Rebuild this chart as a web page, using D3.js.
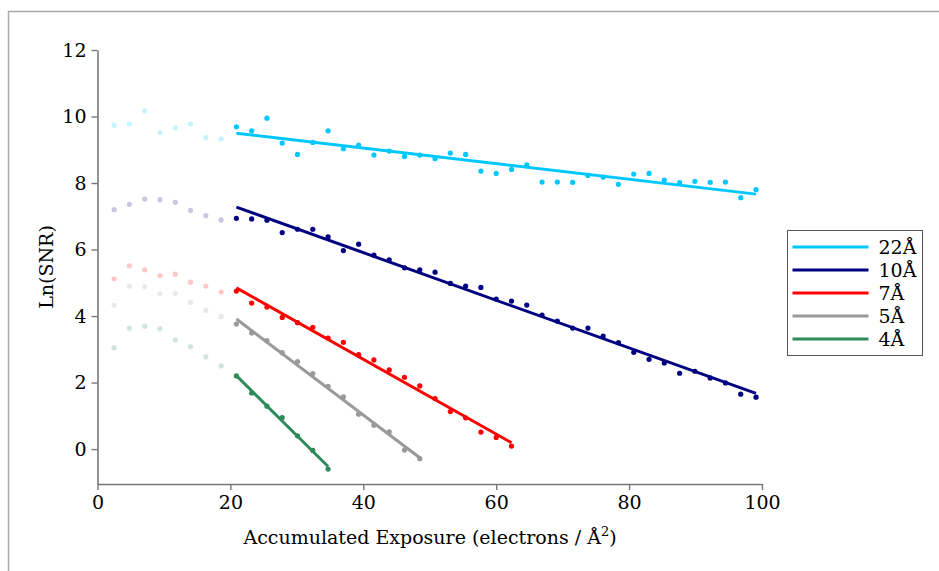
<!DOCTYPE html>
<html lang="en">
<head>
	<meta charset="UTF-8">
	<title>Ln(SNR) vs exposure</title>
	<script src="https://d3js.org/d3.v7.min.js"></script>
	<style>
		body { margin: 0; background: #fff; }
		text { font-family: 'DejaVu Serif', serif; fill: #000; }
	</style>
</head>
<body>

	<div class="box"></div>

	<script type="text/javascript">
		// accumulated exposure (e/A^2) of each frame
		let exposure = [2.5, 4.8, 7.1, 9.4, 11.7, 14.0, 16.3, 18.6, 20.9, 23.2, 25.5, 27.8, 30.1, 32.4, 34.7,
			37.0, 39.3, 41.6, 43.9, 46.2, 48.5, 50.8, 53.1, 55.4, 57.7, 60.0, 62.3, 64.6, 66.9, 69.2,
			71.5, 73.8, 76.1, 78.4, 80.7, 83.0, 85.3, 87.6, 89.9, 92.2, 94.5, 96.8, 99.1]
		// first frames are left out of the fit (drawn faded)
		let skipFrames = 8

		let snr22 = [9.74, 9.78, 10.17, 9.52, 9.66, 9.78, 9.37, 9.33,
			9.69, 9.57, 9.95, 9.20, 8.86, 9.22, 9.57, 9.03, 9.14, 8.84, 8.96, 8.80, 8.84, 8.73, 8.90, 8.86,
			8.36, 8.29, 8.41, 8.55, 8.03, 8.03, 8.02, 8.23, 8.18, 7.96, 8.27, 8.29, 8.09, 8.01, 8.05, 8.02,
			8.03, 7.56, 7.80]
		let snr10 = [7.20, 7.36, 7.52, 7.50, 7.42, 7.18, 7.02, 6.89,
			6.94, 6.92, 6.88, 6.51, 6.61, 6.61, 6.38, 5.97, 6.16, 5.83, 5.69, 5.45, 5.39, 5.32, 4.98, 4.90,
			4.86, 4.51, 4.45, 4.33, 4.03, 3.85, 3.64, 3.64, 3.40, 3.20, 2.91, 2.70, 2.59, 2.28, 2.34, 2.14,
			1.99, 1.65, 1.56]
		let snr7 = [5.12, 5.51, 5.39, 5.22, 5.26, 5.02, 4.90, 4.72,
			4.75, 4.39, 4.27, 3.96, 3.80, 3.66, 3.34, 3.21, 2.84, 2.68, 2.38, 2.16, 1.90, 1.52, 1.13, 0.94,
			0.51, 0.35, 0.09]
		let snr5 = [4.33, 4.90, 4.88, 4.67, 4.68, 4.41, 4.17, 3.99,
			3.76, 3.49, 3.26, 2.90, 2.63, 2.27, 1.89, 1.57, 1.05, 0.72, 0.52, -0.03, -0.29]
		let snr4 = [3.05, 3.64, 3.69, 3.62, 3.28, 3.08, 2.77, 2.50,
			2.20, 1.69, 1.29, 0.95, 0.40, -0.04, -0.60]

		let seriesNames = ['22Å', '10Å', '7Å', '5Å', '4Å']
		let seriesValues = [snr22, snr10, snr7, snr5, snr4]
		let colors = ['#00c8ff', '#000080', '#ff0000', '#999999', '#2e8b57']

		let xTicks = [0, 20, 40, 60, 80, 100]
		let yTicks = [0, 2, 4, 6, 8, 10, 12]

		let width = 939
		let height = 571
		let svg = d3.select('.box').append('svg').attr('width', width).attr('height', height)

		// frame
		svg.append('rect')
			.attr('x', 8.5).attr('y', 11.5)
			.attr('width', width + 10).attr('height', height + 10)
			.attr('fill', 'none').attr('stroke', '#aaa').attr('stroke-width', 1.5)

		let x = d3.scaleLinear().domain([0, 100]).range([97.5, 762])
		let y = d3.scaleLinear().domain([-1.05, 12]).range([484, 50])

		let xAxis = svg.append('g')
			.attr('transform', `translate(0,${y(-1.05)})`)
			.call(d3.axisBottom(x).tickValues(xTicks).tickSize(6).tickPadding(6).tickSizeOuter(0))
		let yAxis = svg.append('g')
			.attr('transform', `translate(${x(0)},0)`)
			.call(d3.axisLeft(y).tickValues(yTicks).tickSize(6).tickPadding(5).tickSizeOuter(0))
		;[xAxis, yAxis].forEach(g => {
			g.select('.domain').attr('stroke', '#777').attr('stroke-width', 1.6)
			g.selectAll('.tick line').attr('stroke', '#777').attr('stroke-width', 1.4)
			g.selectAll('.tick text').attr('font-size', '19px')
				.style('font-family', "'DejaVu Serif', serif")
		})

		svg.append('text')
			.attr('x', 430).attr('y', 544)
			.attr('text-anchor', 'middle')
			.attr('font-size', '19px')
			.text('Accumulated Exposure (electrons / Å')
			.append('tspan').attr('dy', -8).attr('font-size', '13px').text('2')
			.select(function () { return this.parentNode })
			.append('tspan').attr('dy', 8).text(')')

		svg.append('text')
			.attr('transform', `translate(53,${(y(12) + y(-1.05)) / 2}) rotate(-90)`)
			.attr('text-anchor', 'middle')
			.attr('font-size', '19px')
			.text('Ln(SNR)')

		// least squares fit over the frames after skipFrames
		function fit (vals) {
			let pts = vals.map((v, i) => [exposure[i], v]).slice(skipFrames)
			let mx = d3.mean(pts, p => p[0])
			let my = d3.mean(pts, p => p[1])
			let sxy = d3.sum(pts, p => (p[0] - mx) * (p[1] - my))
			let sxx = d3.sum(pts, p => (p[0] - mx) * (p[0] - mx))
			let b = sxy / sxx
			let a = my - b * mx
			let x0 = pts[0][0]
			let x1 = pts[pts.length - 1][0]
			return [[x0, a + b * x0], [x1, a + b * x1]]
		}

		let line = d3.line().x(d => x(d[0])).y(d => y(d[1]))

		seriesValues.forEach((vals, k) => {
			let g = svg.append('g')
			g.selectAll('circle.faded').data(vals.slice(0, skipFrames)).enter()
				.append('circle').attr('class', 'faded')
				.attr('cx', (d, i) => x(exposure[i]))
				.attr('cy', d => y(d))
				.attr('r', 2.6)
				.attr('fill', colors[k])
				.attr('opacity', 0.22)
			g.append('path')
				.attr('d', line(fit(vals)))
				.attr('fill', 'none')
				.attr('stroke', colors[k])
				.attr('stroke-width', 3)
			g.selectAll('circle.used').data(vals.slice(skipFrames)).enter()
				.append('circle').attr('class', 'used')
				.attr('cx', (d, i) => x(exposure[i + skipFrames]))
				.attr('cy', d => y(d))
				.attr('r', 2.6)
				.attr('fill', colors[k])
		})

		// legend
		let legend = svg.append('g').attr('transform', 'translate(787.5,230.5)')
		legend.append('rect')
			.attr('width', 135).attr('height', 125)
			.attr('fill', '#fff').attr('stroke', '#555').attr('stroke-width', 1)
		seriesNames.forEach((name, k) => {
			let row = legend.append('g').attr('transform', `translate(0,${16.5 + k * 23})`)
			row.append('line')
				.attr('x1', 5).attr('x2', 81)
				.attr('stroke', colors[k]).attr('stroke-width', 3)
			row.append('text')
				.attr('x', 91).attr('y', 6.5)
				.attr('font-size', '19px')
				.text(name)
		})
	</script>
</body>
</html>
